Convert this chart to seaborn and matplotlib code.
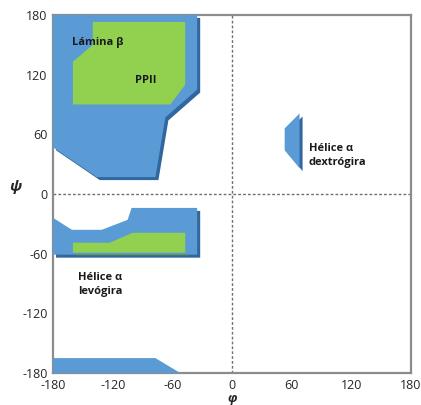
import matplotlib
matplotlib.use("Agg")
import matplotlib.pyplot as plt
import matplotlib.transforms as mtrans
import seaborn as sns

# Regions of the Ramachandran plot (phi, psi)
beta_phi = [-180, -35, -35, -67, -77, -136, -180]
beta_psi = [180, 180, 105, 77, 17, 17, 47]

ppii_phi = [-140, -47, -47, -62, -160, -160, -140]
ppii_psi = [173, 173, 110, 90, 90, 133, 150]

alfa_l_phi = [-180, -161, -131, -105, -101, -35, -35, -180]
alfa_l_psi = [-24, -36, -36, -26, -14, -14, -61, -61]

alfa_l_in_phi = [-160, -123, -100, -47, -47, -160]
alfa_l_in_psi = [-49, -49, -39, -39, -59, -59]

strip_phi = [-180, -77, -52, -180]
strip_psi = [-165, -165, -180, -180]

alfa_r_phi = [68, 53, 53, 68]
alfa_r_psi = [81, 66, 44, 26]

ticks = [-180, -120, -60, 0, 60, 120, 180]

BLUE, BLUE_DARK = "#5B9BD5", "#2F679E"
GREEN, GREEN_DARK = "#92D050", "#557F2A"

sns.set_style("white")
plt.rcParams["font.family"] = ["Open Sans", "DejaVu Sans"]
plt.rcParams["axes.unicode_minus"] = False

fig = plt.figure(figsize=(4.21, 4.05), dpi=100)
ax = fig.add_axes([0.126, 0.079, 0.850, 0.884])

shadow = mtrans.offset_copy(ax.transData, fig=fig, x=3, y=-3, units="dots")


def region(xs, ys, color, dark):
    ax.fill(xs, ys, color=dark, lw=0, transform=shadow, zorder=2)
    ax.fill(xs, ys, color=color, lw=0, zorder=3)


region(beta_phi, beta_psi, BLUE, BLUE_DARK)
region(ppii_phi, ppii_psi, GREEN, GREEN_DARK)
region(alfa_l_phi, alfa_l_psi, BLUE, BLUE_DARK)
region(alfa_l_in_phi, alfa_l_in_psi, GREEN, GREEN_DARK)
region(strip_phi, strip_psi, BLUE, BLUE_DARK)
region(alfa_r_phi, alfa_r_psi, BLUE, BLUE_DARK)

ax.axhline(0, color="#707070", ls=(0, (2, 1.5)), lw=1, zorder=1)
ax.axvline(0, color="#707070", ls=(0, (2, 1.5)), lw=1, zorder=1)

lab = dict(fontsize=8, fontweight="bold", color="#1a1a1a", zorder=5)
ax.text(-135, 152, "Lámina β", ha="center", va="center", **lab)
ax.text(-87, 114, "PPII", ha="center", va="center", **lab)
ax.text(-155, -91, "Hélice α\nlevógira", ha="left", va="center", linespacing=1.4, **lab)
ax.text(77, 39, "Hélice α\ndextrógira", ha="left", va="center", linespacing=1.4, **lab)

ax.set_xlim(-180, 180)
ax.set_ylim(-180, 180)
ax.set_xticks(ticks)
ax.set_yticks(ticks)
ax.tick_params(length=0, labelsize=9, colors="#262626")
ax.tick_params(axis="x", pad=4)
ax.tick_params(axis="y", pad=4)
for s in ax.spines.values():
    s.set_color("#8c8c8c")
    s.set_linewidth(1.6)

ax.set_xlabel("φ", fontsize=9, fontweight="bold", style="italic", va="center")
ax.xaxis.set_label_coords(0.5, -0.071)
ax.set_ylabel("ψ", fontsize=11, fontweight="bold", style="italic", rotation=0)
ax.yaxis.set_label_coords(-0.105, 0.5)

fig.savefig("out.png", dpi=100)
